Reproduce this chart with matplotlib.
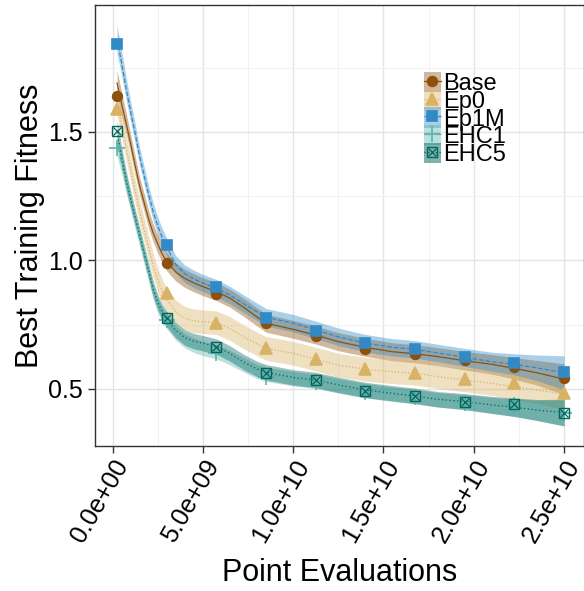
import numpy as np
import matplotlib
matplotlib.use("Agg")
import matplotlib.pyplot as plt
import matplotlib.transforms as mtransforms
from matplotlib.patches import Patch
from matplotlib.lines import Line2D

plt.rcParams['font.family'] = ['Liberation Sans', 'DejaVu Sans']

# smoothed curves (x in units of 1e9 point evaluations)
curve_x = [0.25, 0.5, 0.75, 1.0, 1.25, 1.5, 1.75, 2.0, 2.25, 2.5, 2.75, 3.0, 3.5, 4.0, 4.5, 5.0,
           5.75, 6.5, 7.25, 8.0, 8.5, 10.0, 11.25, 12.5, 14.0, 15.5, 16.75, 18.0, 19.5, 21.0,
           22.25, 23.5, 25.0]
base_fit = [1.69, 1.61, 1.535, 1.455, 1.37, 1.29, 1.225, 1.16, 1.107, 1.065, 1.025, 0.995, 0.955,
            0.93, 0.913, 0.898, 0.879, 0.853, 0.818, 0.78, 0.756, 0.732, 0.710, 0.684, 0.662,
            0.645, 0.637, 0.626, 0.610, 0.596, 0.580, 0.563, 0.538]
ep0_fit = [1.62, 1.53, 1.44, 1.355, 1.27, 1.19, 1.12, 1.05, 0.98, 0.925, 0.88, 0.848, 0.800,
           0.775, 0.765, 0.762, 0.758, 0.735, 0.703, 0.675, 0.658, 0.639, 0.616, 0.593, 0.577,
           0.567, 0.561, 0.548, 0.535, 0.522, 0.509, 0.496, 0.480]
ep1m_fit = [1.86, 1.77, 1.67, 1.58, 1.495, 1.405, 1.33, 1.255, 1.19, 1.135, 1.09, 1.052, 0.985,
            0.948, 0.928, 0.912, 0.892, 0.865, 0.832, 0.800, 0.779, 0.756, 0.730, 0.703, 0.678,
            0.662, 0.654, 0.640, 0.623, 0.606, 0.596, 0.582, 0.563]
ehc1_fit = [1.45, 1.38, 1.30, 1.225, 1.155, 1.085, 1.015, 0.945, 0.875, 0.825, 0.79, 0.762,
            0.718, 0.688, 0.670, 0.658, 0.645, 0.622, 0.594, 0.568, 0.557, 0.540, 0.530, 0.512,
            0.493, 0.480, 0.470, 0.458, 0.448, 0.436, 0.427, 0.417, 0.407]
ehc5_fit = [1.50, 1.405, 1.315, 1.24, 1.17, 1.10, 1.03, 0.96, 0.89, 0.838, 0.80, 0.772, 0.728,
            0.700, 0.686, 0.678, 0.665, 0.638, 0.605, 0.578, 0.565, 0.545, 0.535, 0.516, 0.496,
            0.483, 0.473, 0.460, 0.451, 0.438, 0.429, 0.418, 0.408]

# standard error half-widths of the smooths
base_se = [0.05, 0.045, 0.04, 0.038, 0.036, 0.035, 0.035, 0.035, 0.035, 0.035, 0.035, 0.035,
           0.035, 0.035, 0.035, 0.035, 0.035, 0.035, 0.035, 0.035, 0.035, 0.035, 0.035, 0.035,
           0.035, 0.035, 0.035, 0.035, 0.036, 0.038, 0.042, 0.048, 0.06]
ep0_se = [0.055, 0.05, 0.048, 0.047, 0.046, 0.046, 0.046, 0.046, 0.046, 0.046, 0.046, 0.046,
          0.046, 0.046, 0.046, 0.046, 0.046, 0.046, 0.046, 0.046, 0.046, 0.046, 0.046, 0.046,
          0.046, 0.046, 0.046, 0.046, 0.046, 0.047, 0.049, 0.053, 0.06]
ep1m_se = [0.055, 0.048, 0.043, 0.04, 0.037, 0.035, 0.034, 0.034, 0.034, 0.034, 0.034, 0.034,
           0.034, 0.034, 0.034, 0.034, 0.034, 0.034, 0.034, 0.034, 0.034, 0.034, 0.034, 0.034,
           0.034, 0.034, 0.034, 0.034, 0.035, 0.037, 0.041, 0.05, 0.066]
ehc1_se = [0.045, 0.04, 0.036, 0.033, 0.031, 0.03, 0.029, 0.028, 0.028, 0.028, 0.028, 0.028,
           0.028, 0.028, 0.028, 0.028, 0.028, 0.028, 0.028, 0.028, 0.028, 0.028, 0.028, 0.028,
           0.028, 0.028, 0.028, 0.028, 0.029, 0.031, 0.034, 0.039, 0.05]
ehc5_se = [0.045, 0.04, 0.036, 0.033, 0.031, 0.03, 0.03, 0.03, 0.03, 0.03, 0.03, 0.03,
           0.03, 0.03, 0.03, 0.03, 0.03, 0.03, 0.03, 0.03, 0.03, 0.03, 0.03, 0.03,
           0.03, 0.03, 0.03, 0.03, 0.031, 0.033, 0.036, 0.041, 0.052]

# sampled points shown with markers
point_x = [0.25, 3.0, 5.75, 8.5, 11.25, 14.0, 16.75, 19.5, 22.25, 25.0]
base_pts = [1.641, 0.991, 0.870, 0.758, 0.706, 0.654, 0.635, 0.613, 0.587, 0.542]
ep0_pts = [1.59, 0.872, 0.758, 0.658, 0.616, 0.577, 0.561, 0.538, 0.522, 0.483]
ep1m_pts = [1.841, 1.060, 0.896, 0.775, 0.726, 0.680, 0.654, 0.626, 0.602, 0.565]
ehc1_pts = [1.437, 0.77, 0.64, 0.548, 0.528, 0.490, 0.470, 0.447, 0.437, 0.408]
ehc5_pts = [1.504, 0.775, 0.665, 0.563, 0.535, 0.494, 0.474, 0.451, 0.440, 0.408]

labels = ['Base', 'Ep0', 'Ep1M', 'EHC1', 'EHC5']
colors = ['#8C510A', '#D8B365', '#3189C6', '#5AB4AC', '#01665E']
styles = ['-', ':', '--', (0, (6, 3)), (0, (1, 2))]
markers = ['o', '^', 's', '+', 's']
fits = [base_fit, ep0_fit, ep1m_fit, ehc1_fit, ehc5_fit]
ses = [base_se, ep0_se, ep1m_se, ehc1_se, ehc5_se]
pts = [base_pts, ep0_pts, ep1m_pts, ehc1_pts, ehc5_pts]

cx = np.array(curve_x) * 1e9
px = np.array(point_x) * 1e9

fig = plt.figure(figsize=(5.84, 5.91), dpi=100)
ax = fig.add_axes([0.1627, 0.2453, 0.8373, 0.7462])

for fit, se, c, ls in zip(fits, ses, colors, styles):
    fit = np.array(fit)
    se = np.array(se)
    ax.fill_between(cx, fit - se, fit + se, color=c, alpha=0.4, lw=0)
    ax.plot(cx, fit, color=c, ls=ls, lw=0.9)

handles = []
for i, (p, c, m) in enumerate(zip(pts, colors, markers)):
    if labels[i] == 'EHC5':
        ax.plot(px, p, ls='none', marker='s', ms=7, mfc='none', mec=c, mew=1.0, zorder=5)
        ax.plot(px, p, ls='none', marker='x', ms=5.5, mec=c, mew=0.9, zorder=5)
        h = (Patch(facecolor=c, alpha=0.5, lw=0),
             Line2D([], [], color=c, ls=styles[i], lw=0.9),
             Line2D([], [], ls='none', marker='s', ms=7, mfc='none', mec=c, mew=1.0),
             Line2D([], [], ls='none', marker='x', ms=5.5, mec=c, mew=0.9))
    else:
        ms = 11 if m == '+' else (8 if m == '^' else 7)
        ax.plot(px, p, ls='none', marker=m, ms=ms, color=c, mew=1.2, zorder=5)
        h = (Patch(facecolor=c, alpha=0.4, lw=0),
             Line2D([], [], color=c, ls=styles[i], lw=0.9, marker=m, ms=ms, mew=1.2))
    handles.append(h)

ax.legend(handles, labels, loc='upper left', bbox_to_anchor=(0.672, 0.848), frameon=False,
          fontsize=17, handlelength=0.72, handleheight=0.95, handletextpad=0.12,
          labelspacing=-0.24, borderpad=0, borderaxespad=0)

ax.set_xlim(-0.97e9, 26.1e9)
ax.set_ylim(0.278, 1.994)
ax.set_xticks(np.arange(0, 2.6e10, 5e9))
ax.set_xticklabels(['0.0e+00', '5.0e+09', '1.0e+10', '1.5e+10', '2.0e+10', '2.5e+10'],
                   rotation=60, ha='right', va='top', rotation_mode='anchor')
# nudge the rotated labels a little to the right, as in the original
shift = mtransforms.ScaledTranslation(7 / 100, 0, fig.dpi_scale_trans)
for lab in ax.get_xticklabels():
    lab.set_transform(lab.get_transform() + shift)
ax.set_xticks(np.arange(2.5e9, 2.6e10, 5e9), minor=True)
ax.set_yticks([0.5, 1.0, 1.5])
ax.set_yticklabels(['0.5', '1.0', '1.5'])
ax.set_yticks([0.75, 1.25, 1.75], minor=True)
ax.tick_params(which='major', labelsize=18, length=5, width=1, color='#333333', labelcolor='black')
ax.tick_params(axis='x', which='major', pad=2)
ax.tick_params(which='minor', length=0)
ax.grid(which='major', color='#e3e3e3', lw=1.0)
ax.grid(which='minor', color='#f2f2f2', lw=0.8)
ax.set_axisbelow(True)
for s in ax.spines.values():
    s.set_color('#333333')
    s.set_linewidth(1.0)

ax.set_xlabel('Point Evaluations', fontsize=22)
ax.set_ylabel('Best Training Fitness', fontsize=22)
ax.yaxis.set_label_coords(-0.102, 0.5)
ax.xaxis.set_label_coords(0.5, -0.255)

fig.savefig('out.png', dpi=100)
